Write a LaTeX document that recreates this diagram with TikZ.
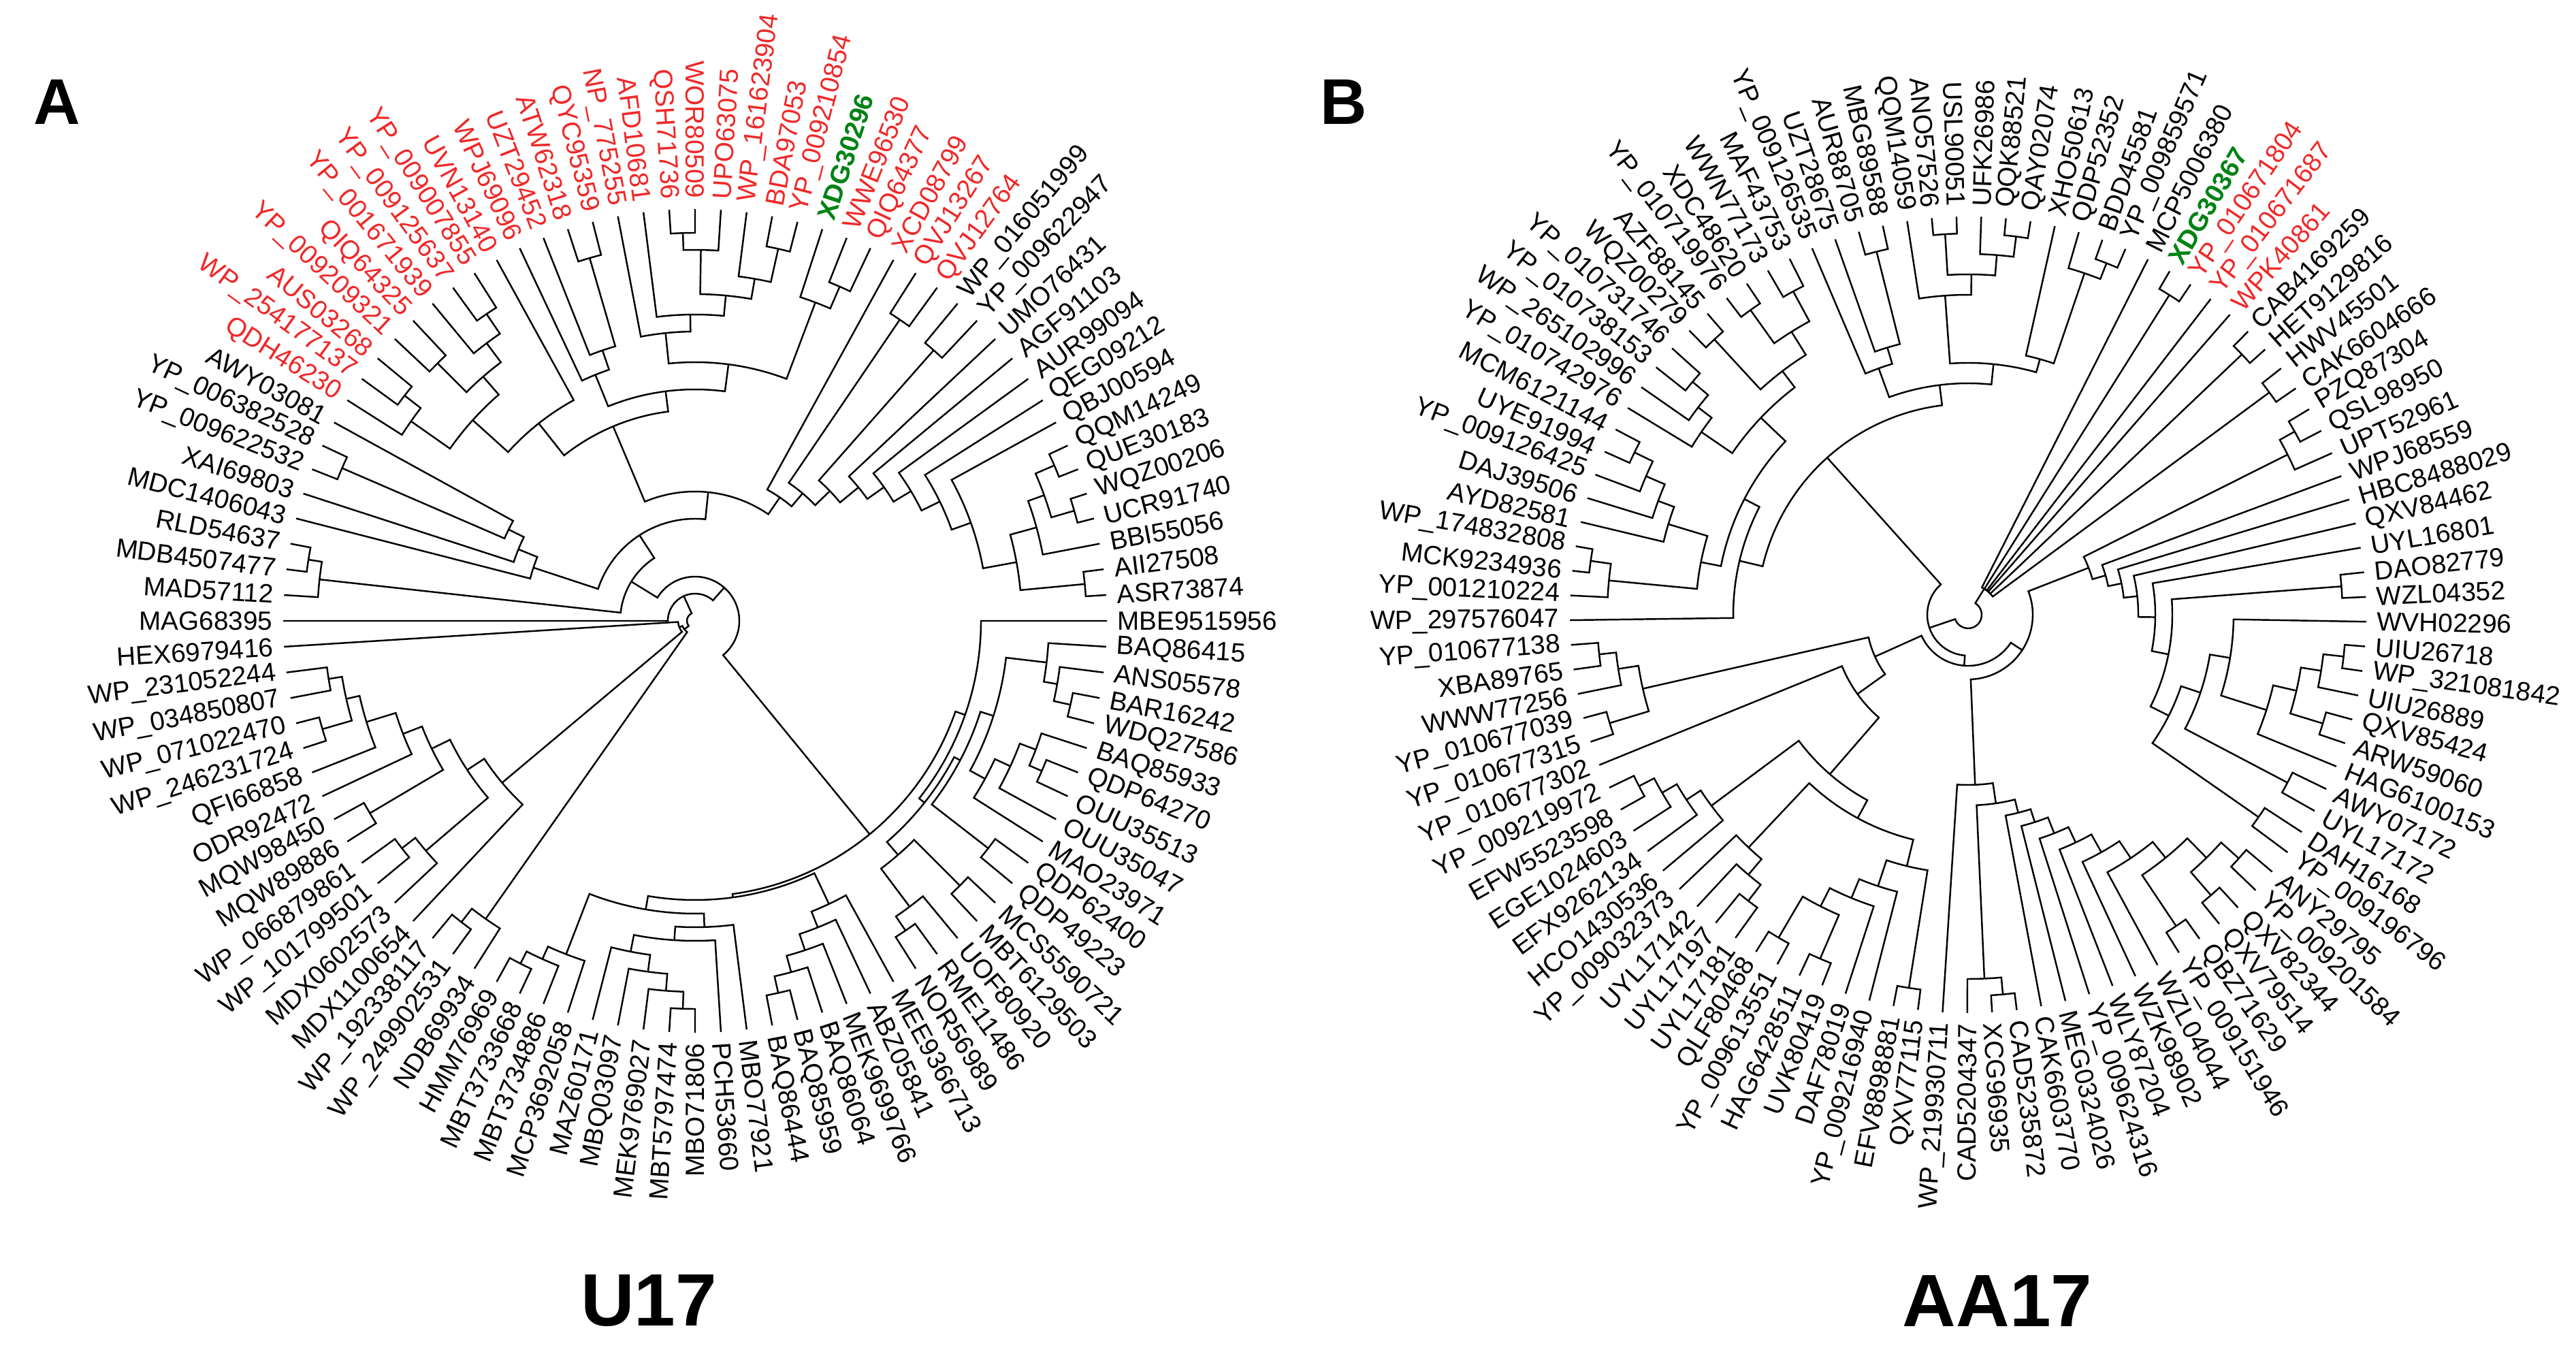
\documentclass[tikz,border=0pt]{standalone}
\usepackage{fontspec}
\setmainfont{Liberation Sans}
\definecolor{labred}{RGB}{240,40,40}
\definecolor{labgreen}{RGB}{0,130,20}
\tikzset{
  branch/.style={line width=0.7pt, black},
  leaflab/.style={inner sep=0pt, font=\fontsize{11}{13}\selectfont},
  panel/.style={font=\fontsize{27}{30}\selectfont\bfseries},
  treetitle/.style={font=\fontsize{31}{34}\selectfont\bfseries}
}
% leaf: name, angle, text, colour
\newcommand{\tleaf}[4]{%
  \expandafter\xdef\csname tang#1\endcsname{#2}%
  \expandafter\xdef\csname trad#1\endcsname{\ttip}%
  \coordinate (#1) at (#2:\ttip);
  \pgfmathtruncatemacro{\tside}{cos(#2)>0}%
  \ifnum\tside=1
    \node[leaflab,text=#4,anchor=west,rotate=#2] (#1l) at (#2:\tlab) {#3};
  \else
    \pgfmathsetmacro{\tflip}{#2+180}%
    \node[leaflab,text=#4,anchor=east,rotate=\tflip] (#1l) at (#2:\tlab) {#3};
  \fi}
% join two clades: [shift of 2nd angle] new, child1, child2, radius
\newcommand{\tjoin}[5][0]{%
  \edef\ja{\csname tang#3\endcsname}%
  \edef\jbb{\csname tang#4\endcsname}%
  \pgfmathsetmacro{\jb}{\jbb+#1}%
  \edef\jra{\csname trad#3\endcsname}%
  \edef\jrb{\csname trad#4\endcsname}%
  \draw[branch] (\ja:\jra) -- (\ja:#5) arc[start angle=\ja, end angle=\jb, radius=#5] -- (\jb:\jrb);
  \pgfmathsetmacro{\jm}{(\ja+\jb)/2}%
  \expandafter\xdef\csname tang#2\endcsname{\jm}%
  \expandafter\xdef\csname trad#2\endcsname{#5}%
  \coordinate (#2) at (\jm:#5);}
\begin{document}
\begin{tikzpicture}
\useasboundingbox (0,0) rectangle (37.84,19.82);

\node[panel] (pA) at (0.84,18.32) {A};
\node[panel] (pB) at (19.74,18.32) {B};
\node[treetitle] (tA) at (9.53,0.71) {U17};
\node[treetitle] (tB) at (29.34,0.71) {AA17};

% tree U17
\begin{scope}[shift={(10.21,10.70)}]
\def\ttip{6.05}\def\tlab{6.2}
\foreach \ii/\tx in {0/MBE9515956, 1/ASR73874, 2/AII27508, 3/BBI55056, 4/UCR91740, 5/WQZ00206,
  6/QUE30183, 7/QQM14249, 8/QBJ00594, 9/QEG09212, 10/AUR99094, 11/AGF91103, 12/UMO76431,
  13/YP\_009622947, 14/WP\_016051999, 42/AWY03081, 43/YP\_006382528, 44/YP\_009622532,
  45/XAI69803, 46/MDC1406043, 47/RLD54637, 48/MDB4507477, 49/MAD57112, 50/MAG68395,
  -49/HEX6979416, -48/WP\_231052244, -47/WP\_034850807, -46/WP\_071022470, -45/WP\_246231724,
  -44/QFI66858, -43/ODR92472, -42/MQW98450, -41/MQW89886, -40/WP\_066879861, -39/WP\_101799501,
  -38/MDX0602573, -37/MDX1100654, -36/WP\_192338117, -35/WP\_249902531, -34/NDB69934,
  -33/HMM76969, -32/MBT3733668, -31/MBT3734886, -30/MCP3692058, -29/MAZ60171, -28/MBQ03097,
  -27/MEK9769027, -26/MBT5797474, -25/MBO71806, -24/PCH53660, -23/MBO77921, -22/BAQ86444,
  -21/BAQ85959, -20/BAQ86064, -19/MEK9699766, -18/ABZ05841, -17/MEE9366713, -16/NOR56989,
  -15/RME11486, -14/UOF80920, -13/MBT6129503, -12/MCS5590721, -11/QDP49223, -10/QDP62400,
  -9/MAO23971, -8/OUU35047, -7/OUU35513, -6/QDP64270, -5/BAQ85933, -4/WDQ27586,
  -3/BAR16242, -2/ANS05578, -1/BAQ86415}{
  \pgfmathsetmacro{\ang}{\ii*3.6}
  \tleaf{A\ii}{\ang}{\tx}{black}
}
\foreach \ii/\tx in {15/QVJ12764, 16/QVJ13267, 17/XCD08799, 18/QIQ64377, 19/WWE96530,
  21/YP\_009210854, 22/BDA97053, 23/WP\_161623904, 24/UPO63075, 25/WOR80509, 26/QSH71736,
  27/AFD10681, 28/NP\_775255, 29/QYC95359, 30/ATW62318, 31/UZT29452, 32/WPJ69096,
  33/UVN13140, 34/YP\_009007855, 35/YP\_009125637, 36/YP\_001671939, 37/QIQ64325,
  38/YP\_009209321, 39/AUS03268, 40/WP\_254177137, 41/QDH46230}{
  \pgfmathsetmacro{\ang}{\ii*3.6}
  \tleaf{A\ii}{\ang}{\tx}{labred}
}
\tleaf{A20}{72}{\textbf{XDG30296}}{labgreen}

\foreach \na/\ca/\cb/\rj in {Aa12/A1/A2/5.75, Aa45/A4/A5/5.8, Aa67/A6/A7/5.75,
  Aa47/Aa45/Aa67/5.45, Aa37/A3/Aa47/5.2, Aa17/Aa12/Aa37/4.8, Aa18/Aa17/A8/4.3,
  Aa19/Aa18/A9/4.0, Aa110/Aa19/A10/3.7, Aa111/Aa110/A11/3.4, Aa112/Aa111/A12/3.1,
  Aa1314/A13/A14/5.3, Aa114/Aa112/Aa1314/2.75, Aa1516/A15/A16/5.35, Aa116/Aa114/Aa1516/2.45,
  Aa117/Aa116/A17/2.2, Aa1819/A18/A19/5.35, Aa1820/Aa1819/A20/5.0, Aa2122/A21/A22/5.6,
  Aa2526/A25/A26/5.7, Aa2426/A24/Aa2526/5.45, Aa2123/Aa2122/A23/5.1, Aa2126/Aa2123/Aa2426/4.8,
  Aa2127/Aa2126/A27/4.5, Aa2128/Aa2127/A28/4.25, Aa1828/Aa1820/Aa2128/3.8,
  Aa2930/A29/A30/5.55, Aa2931/Aa2930/A31/4.2, Aa2932/Aa2931/A32/3.9, Aa1832/Aa1828/Aa2932/3.4,
  Aa3435/A34/A35/5.45, Aa3436/Aa3435/A36/5.1, Aa3738/A37/A38/5.35, Aa3638/Aa3436/Aa3738/4.75,
  Aa3940/A39/A40/5.4, Aa3941/Aa3940/A41/5.1, Aa3441/Aa3638/Aa3941/4.4, Aa3341/A33/Aa3441/3.7,
  Aa1841/Aa1832/Aa3341/3.1, Aa141/Aa117/Aa1841/1.9, Aa4344/A43/A44/5.65,
  Aa4244/A42/Aa4344/3.05, Aa4245/Aa4244/A45/2.8, Aa4246/Aa4245/A46/2.5,
  Aa146/Aa141/Aa4246/1.5, Aa4748/A47/A48/5.75, Aa4749/Aa4748/A49/5.55, Aa149/Aa146/Aa4749/1.1,
  Aam4645/A-46/A-45/5.7, AL1/A-48/A-47/5.45, AL2/AL1/Aam4645/5.25, AL3/AL2/A-44/5.05,
  AL4/AL3/A-43/4.6, AL5/A-42/A-41/5.55, AL6/AL4/AL5/4.3, AL7/A-40/A-39/5.45, AL8/AL7/A-38/5.2,
  AL9/AL6/AL8/4.0, AL10/AL9/A-37/3.7, AL11/A-36/A-35/5.6, AL12/AL11/A-34/5.35,
  AP1/A-33/A-32/5.65, AP2/AP1/A-31/5.45, AP3/AP2/A-30/5.25, AP4/A-26/A-25/5.7,
  AP5/A-27/AP4/5.45, AP6/A-28/AP5/5.2, AP7/A-29/AP6/4.95, AP8/AP7/A-24/4.7, AP9/AP8/A-23/4.5,
  AP10/AP3/AP9/4.3, AQ1/A-22/A-21/5.6, AQ2/AQ1/A-20/5.35, AQ3/AQ2/A-19/5.1, AQ4/AQ3/A-18/4.85,
  AQ5/AQ4/A-17/4.6, AQ6/AP10/AQ5/4.1, AR1/A-16/A-15/5.5, AR2/AR1/A-14/5.25, AR3/A-13/A-12/5.5,
  AR4/AR2/AR3/4.55, AS1/A-11/A-10/5.45, AS2/A-7/A-6/5.55, AS3/AS2/A-5/5.35, AS4/AS3/A-8/5.1,
  AS5/AS4/A-9/4.85, AT1/A-4/A-3/5.65, AT2/AT1/A-2/5.4, AT3/AT2/A-1/5.2, AT4/AS5/AT3/4.6,
  AT5/AS1/AT4/4.4, AT6/AR4/AT5/4.3, AT7/AT6/A0/4.2, ABR/AQ6/AT7/4.05,
  AZ1/Aa149/ABR/0.65, AZ2/A50/AZ1/0.4, AZ3/A-49/AL10/0.25, AZ4/AZ3/AL12/0.2}{
  \tjoin{\na}{\ca}{\cb}{\rj}
}
\tjoin[360]{AZ5}{AZ2}{AZ4}{0.12}
\end{scope}

% tree AA17
\begin{scope}[shift={(28.91,10.79)}]
\def\ttip{5.85}\def\tlab{6.0}
\foreach \ii/\tx in {0/WVH02296, 1/WZL04352, 2/DAO82779, 3/UYL16801, 4/QXV84462, 5/HBC8488029,
  6/WPJ68559, 7/UPT52961, 8/QSL98950, 9/PZQ87304, 10/CAK6604666, 11/HWV45501, 12/HET9129816,
  13/CAB4169259, 18/MCP5006380, 19/YP\_009859571, 20/BDD45581, 21/QDP52352, 22/XHO50613,
  23/QAY02074, 24/QQK88521, 25/UFK26986, 26/USL90051, 27/ANO57526, 28/QQM14059, 29/MBG89588,
  30/AUR88705, 31/UZT28675, 32/YP\_009126535, 33/MAF43753, 34/WWN77173, 35/XDC48620,
  36/YP\_010719976, 37/AZF88145, 38/WQZ00279, 39/YP\_010731746, 40/YP\_010738153,
  41/WP\_265102996, 42/YP\_010742976, 43/MCM6121144, 44/UYE91994, 45/YP\_009126425,
  46/DAJ39506, 47/AYD82581, 48/WP\_174832808, 49/MCK9234936, 50/YP\_001210224,
  51/WP\_297576047, -1/UIU26718, -2/WP\_321081842, -3/UIU26889, -4/QXV85424, -5/ARW59060,
  -6/HAG6100153, -7/AWY07172, -8/UYL17172, -9/DAH16168, -10/YP\_009196796, -11/ANY29795,
  -12/YP\_009201584, -13/QXV82344, -14/QXV79514, -15/QBZ71629, -16/YP\_009151946,
  -17/WZL04044, -18/WZK98902, -19/WLY87204, -20/YP\_009624316, -21/MEG0324026,
  -22/CAK6603770, -23/CAD5235872, -24/XCG96935, -25/CAD5204347, -26/WP\_219930711,
  -27/QXV77115, -28/EFV8898881, -29/YP\_009216940, -30/DAF78019, -31/UVK80419,
  -32/HAG6428511, -33/YP\_009613551, -34/QLF80468, -35/UYL17181, -36/UYL17197,
  -37/UYL17142, -38/YP\_009032373, -39/HCO1430536, -40/EFX9262134, -41/EGE1024603,
  -42/EFW5523598, -43/YP\_009219972, -44/YP\_010677302, -45/YP\_010677315,
  -46/YP\_010677039, -47/WWW77256, -48/XBA89765, -49/YP\_010677138}{
  \pgfmathsetmacro{\ang}{-1+\ii*3.5644}
  \tleaf{B\ii}{\ang}{\tx}{black}
}
\foreach \ii/\tx in {14/WPK40861, 15/YP\_010671687, 16/YP\_010671804}{
  \pgfmathsetmacro{\ang}{-1+\ii*3.5644}
  \tleaf{B\ii}{\ang}{\tx}{labred}
}
\pgfmathsetmacro{\ang}{-1+17*3.5644}
\tleaf{B17}{\ang}{\textbf{XDG30367}}{labgreen}

\foreach \na/\ca/\cb/\rj in {Bf1/B16/B17/5.55, Bf2/B12/B13/5.55, Bf0/B10/B11/5.5,
  Bf3/Bf0/Bf2/0.45, Bf4/Bf3/B14/0.45, Bf5/Bf4/B15/0.45, Bf6/Bf5/Bf1/0.45, Bf7/Bf6/B18/0.45,
  Bc1/B8/B9/5.5, Bc2/B7/Bc1/5.25, Bc3/B1/B2/5.5, Bm1/B-2/B-1/5.55, Bm2/B-3/Bm1/5.25,
  Bm3/B-5/B-4/5.45, Bm4/Bm3/Bm2/4.95, Bm5/B-6/Bm4/4.6, Bm6/Bm5/B0/3.9, Bm7/B-8/B-7/5.3,
  Bm8/Bm7/Bm6/3.6, Bm9/B-10/B-9/5.2, Bm10/Bm9/Bm8/3.3, Bm11/Bm10/Bc3/3.0, Bm12/Bm11/B3/2.75,
  Bm13/Bm12/B4/2.5, Bm14/Bm13/B5/2.3, Bm15/Bm14/B6/2.1, Bm16/Bm15/Bc2/1.9,
  Bn1/B-12/B-11/5.35, Bn2/B-14/B-13/5.45, Bn3/Bn2/Bn1/5.0, Bn4/B-16/B-15/5.5,
  Bn5/Bn4/Bn3/4.6, Bn6/B-17/Bn5/4.3, Bn7/B-18/Bn6/4.0, Bn8/B-19/Bn7/3.7, Bn9/B-20/Bn8/3.45,
  Bn10/B-21/Bn9/3.2, Bn11/B-22/Bn10/3.0, Bn12/B-24/B-23/5.6, Bn13/B-25/Bn12/5.35,
  Bn14/Bn13/Bn11/2.8, Bn15/B-26/Bn14/2.5,
  Bo1/B-28/B-27/5.55, Bo2/B-32/B-31/5.5, Bo3/B-34/B-33/5.5, Bo4/Bo3/Bo2/4.8, Bo5/Bo4/B-30/4.5,
  Bo6/Bo5/B-29/4.2, Bo7/Bo6/Bo1/3.8, Bo8/B-36/B-35/5.3, Bo9/B-37/Bo8/5.0, Bo10/B-38/Bo9/4.7,
  Bo11/Bo10/Bo7/3.4, Bo12/B-43/B-42/5.45, Bo13/Bo12/B-41/5.2, Bo14/Bo13/B-40/4.95,
  Bo15/Bo14/B-39/4.7, Bo16/Bo15/Bo11/3.1, Bo17/B-44/Bo16/2.0,
  Bk1/B-49/B-48/5.45, Bk2/Bk1/B-47/5.2, Bk3/B-46/B-45/5.5, Bk4/Bk2/Bk3/4.9,
  Bu1/B19/B20/5.55, Bu2/Bu1/B21/5.3, Bu3/Bu2/B22/3.9, Bu4/B23/B24/5.6, Bu5/Bu4/B25/5.3,
  Bu6/B26/B27/5.6, Bu7/Bu5/Bu6/5.0, Bu8/Bu7/B28/4.7, Bu9/Bu3/Bu8/3.7, Bu10/B29/B30/5.5,
  Bu11/Bu10/B31/4.1, Bu12/Bu11/B32/3.85, Bu13/Bu9/Bu12/3.4, Bu14/B33/B34/5.4,
  Bu15/B35/B36/5.5, Bu16/Bu14/Bu15/4.9, Bu17/B37/B38/5.5, Bu18/Bu16/Bu17/4.5,
  Bu19/B39/B40/5.3, Bu20/Bu19/B41/5.0, Bu21/Bu20/B42/4.75, Bu22/Bu18/Bu21/4.2,
  Bu23/B43/B44/5.45, Bu24/Bu23/B45/5.15, Bu25/Bu24/B46/4.85, Bu26/Bu25/B47/4.6,
  Bu27/B48/B49/5.6, Bu28/Bu27/B50/5.3, Bu29/Bu26/Bu28/4.0, Bu30/Bu22/Bu29/3.7,
  Bu31/Bu30/B51/3.45, Bu32/Bu13/Bu31/3.1,
  By1/Bk4/Bo17/1.5, By2/Bn15/Bm16/0.95, By3/By1/By2/0.75}{
  \tjoin{\na}{\ca}{\cb}{\rj}
}
\tjoin[-360]{By4}{By3}{Bu32}{0.6}
\tjoin{Bz}{Bf7}{By4}{0.2}
\end{scope}
\end{tikzpicture}
\end{document}
